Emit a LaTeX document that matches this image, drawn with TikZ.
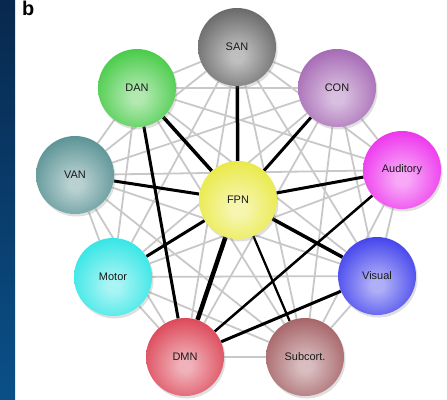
\documentclass[tikz,border=0pt]{standalone}
\usepackage{fontspec}
\setsansfont{Liberation Sans}
\usetikzlibrary{backgrounds, shadows}
\usepackage{xcolor}
\definecolor{nsan}{RGB}{95, 95, 95}
\definecolor{ndan}{RGB}{60, 200, 60}
\definecolor{ncon}{RGB}{160, 96, 176}
\definecolor{nvan}{RGB}{80, 140, 142}
\definecolor{naud}{RGB}{236, 40, 236}
\definecolor{nfpn}{RGB}{232, 232, 60}
\definecolor{nmot}{RGB}{40, 228, 228}
\definecolor{nvis}{RGB}{55, 55, 236}
\definecolor{ndmn}{RGB}{218, 60, 78}
\definecolor{nsub}{RGB}{160, 90, 94}
\definecolor{zedge}{RGB}{200, 200, 200}
\definecolor{stripa}{RGB}{8, 40, 78}
\definecolor{stripb}{RGB}{10, 80, 136}
\pgfdeclareradialshading[ballin,ballout]{netball}{\pgfpoint{0bp}{-6bp}}%
  {color(0bp)=(ballin); color(4bp)=(ballin); color(32bp)=(ballout); color(56bp)=(ballout!85!black); color(80bp)=(ballout!85!black)}

\begin{document}
\begin{tikzpicture}[x=1bp, y=-1bp,
  netnode/.style={circle, minimum size=78bp, inner sep=0pt,
                  font=\sffamily\fontsize{11}{12}\selectfont, text=black!90,
                  drop shadow={shadow xshift=1.5bp, shadow yshift=-2.5bp, opacity=0.25}},
  ball/.style={netnode, shading=netball,
               /utils/exec={\colorlet{ballin}{#1!40!white}\colorlet{ballout}{#1}}},
  weak/.style={zedge, line width=1.8bp},
  strong/.style={black, line width=#1}
]
\useasboundingbox (0,0) rectangle (447,399);
\fill[top color=stripa, bottom color=stripb] (0,0) rectangle (15,399);
\node[font=\sffamily\bfseries\fontsize{20}{20}\selectfont, anchor=north west, inner sep=0pt] (lbl) at (22,1) {b};

\node[ball=nsan] (san) at (237,47)  {SAN};
\node[ball=ndan] (dan) at (137,88)  {DAN};
\node[ball=ncon] (con) at (337,88)  {CON};
\node[ball=nvan] (van) at (75,175)  {VAN};
\node[ball=naud] (aud) at (402,170) {Auditory};
\node[ball=nfpn] (fpn) at (238,200) {FPN};
\node[ball=nmot] (mot) at (113,277) {Motor};
\node[ball=nvis] (vis) at (377,276) {Visual};
\node[ball=ndmn] (dmn) at (185,357) {DMN};
\node[ball=nsub] (sub) at (305,357) {Subcort.};

\begin{scope}[on background layer]
  % all pairs, light
  \foreach \a [count=\i] in {san,dan,con,van,aud,fpn,mot,vis,dmn,sub}
    \foreach \b [count=\j] in {san,dan,con,van,aud,fpn,mot,vis,dmn,sub}
      {\ifnum\i<\j \draw[weak] (\a) -- (\b); \fi}
  % strong links
  \draw[strong=3.5bp] (fpn) -- (san);
  \draw[strong=3.5bp] (fpn) -- (dan);
  \draw[strong=3bp]   (fpn) -- (con);
  \draw[strong=3bp]   (fpn) -- (van);
  \draw[strong=3bp]   (fpn) -- (aud);
  \draw[strong=3bp]   (fpn) -- (mot);
  \draw[strong=3.5bp] (fpn) -- (vis);
  \draw[strong=4.5bp] (fpn) -- (dmn);
  \draw[strong=2.2bp] (fpn) -- (sub);
  \draw[strong=3bp]   (dan) -- (dmn);
  \draw[strong=2.5bp] (aud) -- (dmn);
  \draw[strong=3bp]   (vis) -- (dmn);
\end{scope}
\end{tikzpicture}
\end{document}
